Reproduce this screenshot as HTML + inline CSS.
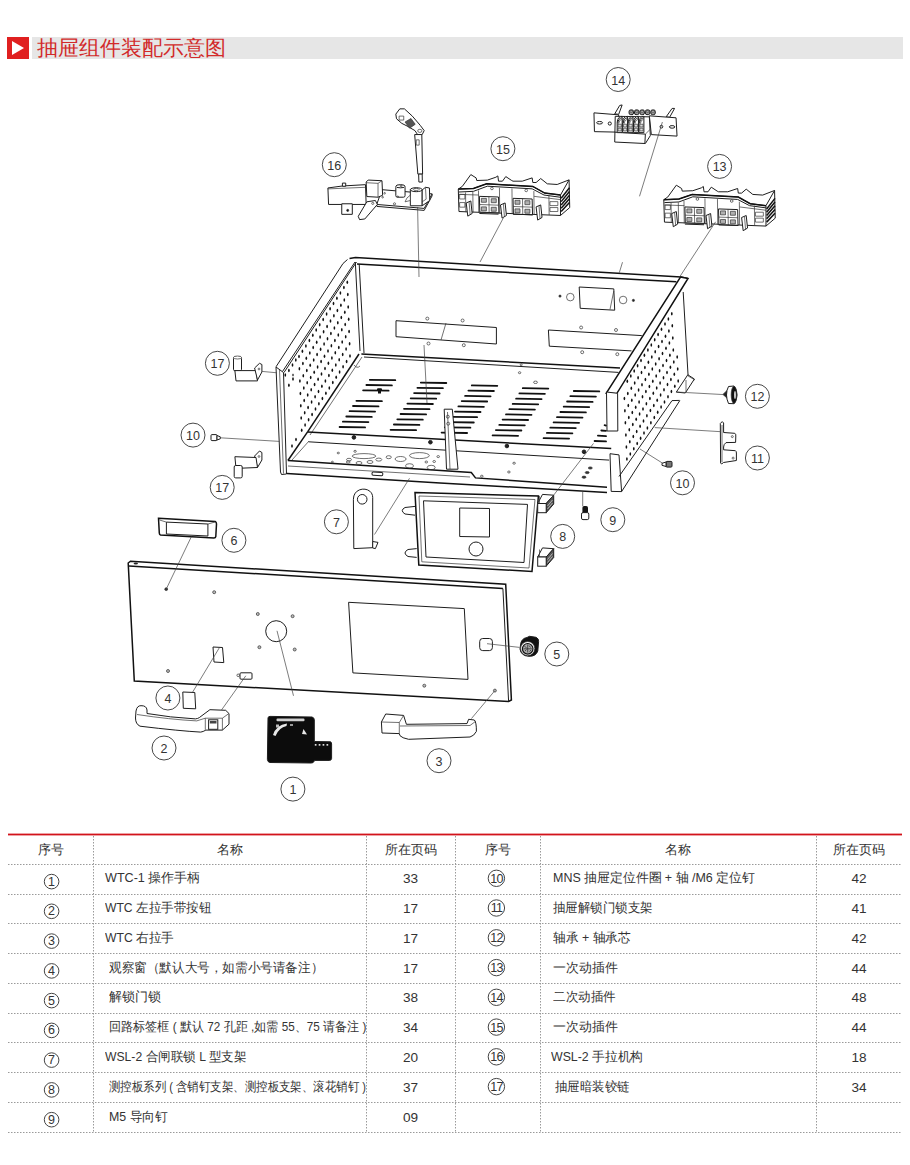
<!DOCTYPE html>
<html><head><meta charset="utf-8">
<style>
html,body{margin:0;padding:0;background:#fff;}
#root{position:relative;width:910px;height:1165px;overflow:hidden;background:#fff;font-family:"Liberation Sans",sans-serif;color:#333;}
.c{position:absolute;height:29.76px;line-height:29.76px;font-size:13px;text-align:center;white-space:nowrap;}
.c.t{text-align:left;font-size:12.6px;transform-origin:0 50%;}
.c.p{font-size:13.6px;}
.c.h{height:29.4px;line-height:29.4px;}
#bar{position:absolute;left:32px;top:37px;width:871px;height:22px;background:#e6e6e6;}
#sq{position:absolute;left:7px;top:37px;width:22px;height:22px;background:#e02020;}
#title{position:absolute;left:37px;top:37px;height:22px;line-height:22px;font-size:21px;color:#d22a2a;}
</style></head><body><div id="root">
<div id="bar"></div>
<div id="sq"><svg width="22" height="22" style="display:block"><polygon points="5,4 17,11 5,18" fill="#fff"/></svg></div>
<div id="title">抽屉组件装配示意图</div>
<svg width="910" height="830" viewBox="0 0 910 830" style="position:absolute;left:0;top:0"><style>.o{stroke:#1e1e1e;stroke-width:1}.b{stroke:#111;stroke-width:1.5}.t{stroke:#333;stroke-width:0.7}.ld{stroke:#444;stroke-width:0.7}.lb{stroke:#333;stroke-width:0.9}text{fill:#333;font-family:"Liberation Sans",sans-serif;font-size:12.5px;fill:#333;text-anchor:middle}</style><g fill="none"><g fill="#111"><ellipse cx="347.3" cy="282.3" rx="0.85" ry="1.75"/><ellipse cx="347.8" cy="294.6" rx="0.85" ry="1.75"/><ellipse cx="348.2" cy="306.9" rx="0.85" ry="1.75"/><ellipse cx="348.7" cy="319.2" rx="0.85" ry="1.75"/><ellipse cx="349.1" cy="331.5" rx="0.85" ry="1.75"/><ellipse cx="349.6" cy="343.8" rx="0.85" ry="1.75"/><ellipse cx="350.0" cy="356.1" rx="0.85" ry="1.75"/><ellipse cx="343.9" cy="287.6" rx="0.85" ry="1.75"/><ellipse cx="344.3" cy="299.9" rx="0.85" ry="1.75"/><ellipse cx="344.8" cy="312.2" rx="0.85" ry="1.75"/><ellipse cx="345.2" cy="324.5" rx="0.85" ry="1.75"/><ellipse cx="345.7" cy="336.8" rx="0.85" ry="1.75"/><ellipse cx="346.1" cy="349.1" rx="0.85" ry="1.75"/><ellipse cx="346.6" cy="361.4" rx="0.85" ry="1.75"/><ellipse cx="340.4" cy="292.9" rx="0.85" ry="1.75"/><ellipse cx="340.9" cy="305.2" rx="0.85" ry="1.75"/><ellipse cx="341.3" cy="317.5" rx="0.85" ry="1.75"/><ellipse cx="341.8" cy="329.8" rx="0.85" ry="1.75"/><ellipse cx="342.2" cy="342.1" rx="0.85" ry="1.75"/><ellipse cx="342.7" cy="354.4" rx="0.85" ry="1.75"/><ellipse cx="343.1" cy="366.7" rx="0.85" ry="1.75"/><ellipse cx="336.9" cy="298.2" rx="0.85" ry="1.75"/><ellipse cx="337.4" cy="310.5" rx="0.85" ry="1.75"/><ellipse cx="337.8" cy="322.8" rx="0.85" ry="1.75"/><ellipse cx="338.3" cy="335.1" rx="0.85" ry="1.75"/><ellipse cx="338.8" cy="347.4" rx="0.85" ry="1.75"/><ellipse cx="339.2" cy="359.7" rx="0.85" ry="1.75"/><ellipse cx="339.6" cy="372.0" rx="0.85" ry="1.75"/><ellipse cx="333.5" cy="303.5" rx="0.85" ry="1.75"/><ellipse cx="333.9" cy="315.8" rx="0.85" ry="1.75"/><ellipse cx="334.4" cy="328.1" rx="0.85" ry="1.75"/><ellipse cx="334.9" cy="340.4" rx="0.85" ry="1.75"/><ellipse cx="335.3" cy="352.7" rx="0.85" ry="1.75"/><ellipse cx="335.8" cy="365.0" rx="0.85" ry="1.75"/><ellipse cx="336.2" cy="377.3" rx="0.85" ry="1.75"/><ellipse cx="330.1" cy="308.8" rx="0.85" ry="1.75"/><ellipse cx="330.5" cy="321.1" rx="0.85" ry="1.75"/><ellipse cx="330.9" cy="333.4" rx="0.85" ry="1.75"/><ellipse cx="331.4" cy="345.7" rx="0.85" ry="1.75"/><ellipse cx="331.9" cy="358.0" rx="0.85" ry="1.75"/><ellipse cx="332.3" cy="370.3" rx="0.85" ry="1.75"/><ellipse cx="332.8" cy="382.6" rx="0.85" ry="1.75"/><ellipse cx="326.6" cy="314.1" rx="0.85" ry="1.75"/><ellipse cx="327.1" cy="326.4" rx="0.85" ry="1.75"/><ellipse cx="327.5" cy="338.7" rx="0.85" ry="1.75"/><ellipse cx="328.0" cy="351.0" rx="0.85" ry="1.75"/><ellipse cx="328.4" cy="363.3" rx="0.85" ry="1.75"/><ellipse cx="328.9" cy="375.6" rx="0.85" ry="1.75"/><ellipse cx="329.3" cy="387.9" rx="0.85" ry="1.75"/><ellipse cx="323.2" cy="319.4" rx="0.85" ry="1.75"/><ellipse cx="323.6" cy="331.7" rx="0.85" ry="1.75"/><ellipse cx="324.1" cy="344.0" rx="0.85" ry="1.75"/><ellipse cx="324.5" cy="356.3" rx="0.85" ry="1.75"/><ellipse cx="325.0" cy="368.6" rx="0.85" ry="1.75"/><ellipse cx="325.4" cy="380.9" rx="0.85" ry="1.75"/><ellipse cx="325.9" cy="393.2" rx="0.85" ry="1.75"/><ellipse cx="319.7" cy="324.7" rx="0.85" ry="1.75"/><ellipse cx="320.1" cy="337.0" rx="0.85" ry="1.75"/><ellipse cx="320.6" cy="349.3" rx="0.85" ry="1.75"/><ellipse cx="321.1" cy="361.6" rx="0.85" ry="1.75"/><ellipse cx="321.5" cy="373.9" rx="0.85" ry="1.75"/><ellipse cx="321.9" cy="386.2" rx="0.85" ry="1.75"/><ellipse cx="322.4" cy="398.5" rx="0.85" ry="1.75"/><ellipse cx="316.2" cy="330.0" rx="0.85" ry="1.75"/><ellipse cx="316.7" cy="342.3" rx="0.85" ry="1.75"/><ellipse cx="317.1" cy="354.6" rx="0.85" ry="1.75"/><ellipse cx="317.6" cy="366.9" rx="0.85" ry="1.75"/><ellipse cx="318.1" cy="379.2" rx="0.85" ry="1.75"/><ellipse cx="318.5" cy="391.5" rx="0.85" ry="1.75"/><ellipse cx="318.9" cy="403.8" rx="0.85" ry="1.75"/><ellipse cx="312.8" cy="335.3" rx="0.85" ry="1.75"/><ellipse cx="313.2" cy="347.6" rx="0.85" ry="1.75"/><ellipse cx="313.7" cy="359.9" rx="0.85" ry="1.75"/><ellipse cx="314.2" cy="372.2" rx="0.85" ry="1.75"/><ellipse cx="314.6" cy="384.5" rx="0.85" ry="1.75"/><ellipse cx="315.1" cy="396.8" rx="0.85" ry="1.75"/><ellipse cx="315.5" cy="409.1" rx="0.85" ry="1.75"/><ellipse cx="309.4" cy="340.6" rx="0.85" ry="1.75"/><ellipse cx="309.8" cy="352.9" rx="0.85" ry="1.75"/><ellipse cx="310.2" cy="365.2" rx="0.85" ry="1.75"/><ellipse cx="310.7" cy="377.5" rx="0.85" ry="1.75"/><ellipse cx="311.2" cy="389.8" rx="0.85" ry="1.75"/><ellipse cx="311.6" cy="402.1" rx="0.85" ry="1.75"/><ellipse cx="312.1" cy="414.4" rx="0.85" ry="1.75"/><ellipse cx="305.9" cy="345.9" rx="0.85" ry="1.75"/><ellipse cx="306.3" cy="358.2" rx="0.85" ry="1.75"/><ellipse cx="306.8" cy="370.5" rx="0.85" ry="1.75"/><ellipse cx="307.2" cy="382.8" rx="0.85" ry="1.75"/><ellipse cx="307.7" cy="395.1" rx="0.85" ry="1.75"/><ellipse cx="308.1" cy="407.4" rx="0.85" ry="1.75"/><ellipse cx="308.6" cy="419.7" rx="0.85" ry="1.75"/><ellipse cx="302.4" cy="351.2" rx="0.85" ry="1.75"/><ellipse cx="302.9" cy="363.5" rx="0.85" ry="1.75"/><ellipse cx="303.3" cy="375.8" rx="0.85" ry="1.75"/><ellipse cx="303.8" cy="388.1" rx="0.85" ry="1.75"/><ellipse cx="304.2" cy="400.4" rx="0.85" ry="1.75"/><ellipse cx="304.7" cy="412.7" rx="0.85" ry="1.75"/><ellipse cx="305.1" cy="425.0" rx="0.85" ry="1.75"/><ellipse cx="299.0" cy="356.5" rx="0.85" ry="1.75"/><ellipse cx="299.4" cy="368.8" rx="0.85" ry="1.75"/><ellipse cx="299.9" cy="381.1" rx="0.85" ry="1.75"/><ellipse cx="300.4" cy="393.4" rx="0.85" ry="1.75"/><ellipse cx="300.8" cy="405.7" rx="0.85" ry="1.75"/><ellipse cx="301.2" cy="418.0" rx="0.85" ry="1.75"/><ellipse cx="301.7" cy="430.3" rx="0.85" ry="1.75"/></g><g fill="#111"><ellipse cx="285.3" cy="375" rx="0.85" ry="1.75"/><ellipse cx="288.9" cy="370.4" rx="0.85" ry="1.75"/><ellipse cx="293" cy="379.1" rx="0.85" ry="1.75"/><ellipse cx="288.9" cy="385.3" rx="0.85" ry="1.75"/><ellipse cx="296" cy="439.4" rx="0.85" ry="1.75"/><ellipse cx="292" cy="446" rx="0.85" ry="1.75"/><ellipse cx="292.5" cy="365" rx="0.85" ry="1.75"/><ellipse cx="295.8" cy="360" rx="0.85" ry="1.75"/></g><g fill="#111"><ellipse cx="677.2" cy="356.9" rx="0.85" ry="1.75"/><ellipse cx="677.7" cy="369.0" rx="0.85" ry="1.75"/><ellipse cx="678.2" cy="381.1" rx="0.85" ry="1.75"/><ellipse cx="671.8" cy="313.7" rx="0.85" ry="1.75"/><ellipse cx="672.3" cy="325.8" rx="0.85" ry="1.75"/><ellipse cx="672.8" cy="337.9" rx="0.85" ry="1.75"/><ellipse cx="673.3" cy="350.0" rx="0.85" ry="1.75"/><ellipse cx="673.8" cy="362.1" rx="0.85" ry="1.75"/><ellipse cx="674.3" cy="374.2" rx="0.85" ry="1.75"/><ellipse cx="674.8" cy="386.3" rx="0.85" ry="1.75"/><ellipse cx="668.4" cy="318.9" rx="0.85" ry="1.75"/><ellipse cx="668.9" cy="331.0" rx="0.85" ry="1.75"/><ellipse cx="669.4" cy="343.1" rx="0.85" ry="1.75"/><ellipse cx="669.9" cy="355.2" rx="0.85" ry="1.75"/><ellipse cx="670.4" cy="367.3" rx="0.85" ry="1.75"/><ellipse cx="670.9" cy="379.4" rx="0.85" ry="1.75"/><ellipse cx="671.4" cy="391.5" rx="0.85" ry="1.75"/><ellipse cx="665.0" cy="324.1" rx="0.85" ry="1.75"/><ellipse cx="665.5" cy="336.2" rx="0.85" ry="1.75"/><ellipse cx="666.0" cy="348.3" rx="0.85" ry="1.75"/><ellipse cx="666.5" cy="360.4" rx="0.85" ry="1.75"/><ellipse cx="667.0" cy="372.5" rx="0.85" ry="1.75"/><ellipse cx="667.5" cy="384.6" rx="0.85" ry="1.75"/><ellipse cx="668.0" cy="396.7" rx="0.85" ry="1.75"/><ellipse cx="661.5" cy="329.3" rx="0.85" ry="1.75"/><ellipse cx="662.0" cy="341.4" rx="0.85" ry="1.75"/><ellipse cx="662.5" cy="353.5" rx="0.85" ry="1.75"/><ellipse cx="663.0" cy="365.6" rx="0.85" ry="1.75"/><ellipse cx="663.5" cy="377.7" rx="0.85" ry="1.75"/><ellipse cx="664.0" cy="389.8" rx="0.85" ry="1.75"/><ellipse cx="664.5" cy="401.9" rx="0.85" ry="1.75"/><ellipse cx="658.1" cy="334.5" rx="0.85" ry="1.75"/><ellipse cx="658.6" cy="346.6" rx="0.85" ry="1.75"/><ellipse cx="659.1" cy="358.7" rx="0.85" ry="1.75"/><ellipse cx="659.6" cy="370.8" rx="0.85" ry="1.75"/><ellipse cx="660.1" cy="382.9" rx="0.85" ry="1.75"/><ellipse cx="660.6" cy="395.0" rx="0.85" ry="1.75"/><ellipse cx="661.1" cy="407.1" rx="0.85" ry="1.75"/><ellipse cx="654.7" cy="339.7" rx="0.85" ry="1.75"/><ellipse cx="655.2" cy="351.8" rx="0.85" ry="1.75"/><ellipse cx="655.7" cy="363.9" rx="0.85" ry="1.75"/><ellipse cx="656.2" cy="376.0" rx="0.85" ry="1.75"/><ellipse cx="656.7" cy="388.1" rx="0.85" ry="1.75"/><ellipse cx="657.2" cy="400.2" rx="0.85" ry="1.75"/><ellipse cx="657.7" cy="412.3" rx="0.85" ry="1.75"/><ellipse cx="651.3" cy="344.9" rx="0.85" ry="1.75"/><ellipse cx="651.8" cy="357.0" rx="0.85" ry="1.75"/><ellipse cx="652.3" cy="369.1" rx="0.85" ry="1.75"/><ellipse cx="652.8" cy="381.2" rx="0.85" ry="1.75"/><ellipse cx="653.3" cy="393.3" rx="0.85" ry="1.75"/><ellipse cx="653.8" cy="405.4" rx="0.85" ry="1.75"/><ellipse cx="654.3" cy="417.5" rx="0.85" ry="1.75"/><ellipse cx="647.9" cy="350.1" rx="0.85" ry="1.75"/><ellipse cx="648.4" cy="362.2" rx="0.85" ry="1.75"/><ellipse cx="648.9" cy="374.3" rx="0.85" ry="1.75"/><ellipse cx="649.4" cy="386.4" rx="0.85" ry="1.75"/><ellipse cx="649.9" cy="398.5" rx="0.85" ry="1.75"/><ellipse cx="650.4" cy="410.6" rx="0.85" ry="1.75"/><ellipse cx="650.9" cy="422.7" rx="0.85" ry="1.75"/><ellipse cx="644.4" cy="355.3" rx="0.85" ry="1.75"/><ellipse cx="644.9" cy="367.4" rx="0.85" ry="1.75"/><ellipse cx="645.4" cy="379.5" rx="0.85" ry="1.75"/><ellipse cx="645.9" cy="391.6" rx="0.85" ry="1.75"/><ellipse cx="646.4" cy="403.7" rx="0.85" ry="1.75"/><ellipse cx="646.9" cy="415.8" rx="0.85" ry="1.75"/><ellipse cx="647.4" cy="427.9" rx="0.85" ry="1.75"/><ellipse cx="641.0" cy="360.5" rx="0.85" ry="1.75"/><ellipse cx="641.5" cy="372.6" rx="0.85" ry="1.75"/><ellipse cx="642.0" cy="384.7" rx="0.85" ry="1.75"/><ellipse cx="642.5" cy="396.8" rx="0.85" ry="1.75"/><ellipse cx="643.0" cy="408.9" rx="0.85" ry="1.75"/><ellipse cx="643.5" cy="421.0" rx="0.85" ry="1.75"/><ellipse cx="644.0" cy="433.1" rx="0.85" ry="1.75"/><ellipse cx="637.6" cy="365.7" rx="0.85" ry="1.75"/><ellipse cx="638.1" cy="377.8" rx="0.85" ry="1.75"/><ellipse cx="638.6" cy="389.9" rx="0.85" ry="1.75"/><ellipse cx="639.1" cy="402.0" rx="0.85" ry="1.75"/><ellipse cx="639.6" cy="414.1" rx="0.85" ry="1.75"/><ellipse cx="640.1" cy="426.2" rx="0.85" ry="1.75"/><ellipse cx="640.6" cy="438.3" rx="0.85" ry="1.75"/><ellipse cx="634.2" cy="370.9" rx="0.85" ry="1.75"/><ellipse cx="634.7" cy="383.0" rx="0.85" ry="1.75"/><ellipse cx="635.2" cy="395.1" rx="0.85" ry="1.75"/><ellipse cx="635.7" cy="407.2" rx="0.85" ry="1.75"/><ellipse cx="636.2" cy="419.3" rx="0.85" ry="1.75"/><ellipse cx="636.7" cy="431.4" rx="0.85" ry="1.75"/><ellipse cx="637.2" cy="443.5" rx="0.85" ry="1.75"/><ellipse cx="630.8" cy="376.1" rx="0.85" ry="1.75"/><ellipse cx="631.3" cy="388.2" rx="0.85" ry="1.75"/><ellipse cx="631.8" cy="400.3" rx="0.85" ry="1.75"/><ellipse cx="632.3" cy="412.4" rx="0.85" ry="1.75"/><ellipse cx="632.8" cy="424.5" rx="0.85" ry="1.75"/><ellipse cx="633.3" cy="436.6" rx="0.85" ry="1.75"/><ellipse cx="633.8" cy="448.7" rx="0.85" ry="1.75"/><ellipse cx="627.3" cy="381.3" rx="0.85" ry="1.75"/><ellipse cx="627.8" cy="393.4" rx="0.85" ry="1.75"/><ellipse cx="628.3" cy="405.5" rx="0.85" ry="1.75"/><ellipse cx="628.8" cy="417.6" rx="0.85" ry="1.75"/><ellipse cx="629.3" cy="429.7" rx="0.85" ry="1.75"/><ellipse cx="629.8" cy="441.8" rx="0.85" ry="1.75"/><ellipse cx="630.3" cy="453.9" rx="0.85" ry="1.75"/><ellipse cx="624.4" cy="398.6" rx="0.85" ry="1.75"/><ellipse cx="624.9" cy="410.7" rx="0.85" ry="1.75"/><ellipse cx="625.4" cy="422.8" rx="0.85" ry="1.75"/><ellipse cx="625.9" cy="434.9" rx="0.85" ry="1.75"/><ellipse cx="626.4" cy="447.0" rx="0.85" ry="1.75"/><ellipse cx="626.9" cy="459.1" rx="0.85" ry="1.75"/></g><polyline class="b" points="349.5,258.5 355.5,257.5 681.0,277.1 688.0,278.5"/><line class="b" x1="357.0" y1="264.0" x2="676.4" y2="281.8"/><line class="o" x1="355.3" y1="262.0" x2="360.0" y2="351.0"/><line class="o" x1="359.2" y1="264.0" x2="364.0" y2="353.0"/><polyline class="o" points="347.5,259.5 343.0,263.5 276.0,366.8"/><line class="o" x1="356.5" y1="262.0" x2="284.0" y2="372.5"/><line class="o" x1="355.0" y1="262.0" x2="282.5" y2="371.5"/><polygon class="o" points="276.0,367.0 283.5,372.5 286.5,474.0 281.5,474.5 280.5,472.0" fill="#fff"/><line class="t" x1="279.5" y1="369.5" x2="283.5" y2="473.5"/><line class="b" x1="361.4" y1="353.9" x2="620.0" y2="368.0"/><line class="o" x1="364.0" y1="357.0" x2="618.5" y2="372.4"/><line class="b" x1="359.0" y1="354.0" x2="307.6" y2="431.9"/><line class="t" x1="362.0" y1="357.0" x2="310.0" y2="435.0"/><line class="b" x1="307.6" y1="431.9" x2="287.9" y2="460.5"/><line class="t" x1="309.0" y1="441.0" x2="292.0" y2="460.0"/><line class="b" x1="307.6" y1="431.9" x2="611.2" y2="448.6"/><line class="o" x1="308.6" y1="441.8" x2="609.1" y2="460.1"/><polyline class="b" points="287.9,460.5 471.3,472.6 475.5,477.9 607.0,487.3"/><polyline class="b" points="286.9,473.4 440.0,483.0 607.0,492.5"/><line class="t" x1="288.0" y1="466.0" x2="470.0" y2="477.0"/><rect class="o" x="372" y="472.2" width="10.8" height="3.2" rx="1.2" transform="rotate(3 377 474)"/><path d="M369.8 379.8L395.3 380.2M366.4 385.0L391.9 385.4M363.1 390.3L388.6 390.7M356.4 400.8L381.9 401.2M353.0 406.0L378.5 406.4M349.6 411.2L375.1 411.6M346.3 416.5L371.8 416.9M342.9 421.7L368.4 422.1M339.6 427.0L365.1 427.4M420.8 382.6L446.3 383.0M417.4 387.8L442.9 388.2M414.1 393.1L439.6 393.5M410.7 398.3L436.2 398.7M407.4 403.6L432.9 404.0M404.0 408.8L429.5 409.2M400.6 414.0L426.1 414.4M397.3 419.3L422.8 419.7M393.9 424.5L419.4 424.9M390.6 429.8L416.1 430.2M471.8 385.4L497.3 385.8M468.4 390.6L493.9 391.0M465.1 395.9L490.6 396.3M461.7 401.1L487.2 401.5M458.4 406.4L483.9 406.8M455.0 411.6L480.5 412.0M451.6 416.8L477.1 417.2M448.3 422.1L473.8 422.5M444.9 427.3L470.4 427.7M441.6 432.6L467.1 433.0M522.8 388.2L548.3 388.6M519.4 393.4L544.9 393.8M516.1 398.7L541.6 399.1M512.7 403.9L538.2 404.3M509.4 409.2L534.9 409.6M506.0 414.4L531.5 414.8M502.6 419.6L528.1 420.0M499.3 424.9L524.8 425.3M495.9 430.1L521.4 430.5M492.6 435.4L518.1 435.8M573.8 391.0L599.3 391.4M570.4 396.2L595.9 396.6M567.1 401.5L592.6 401.9M563.7 406.7L589.2 407.1M560.4 412.0L585.9 412.4M557.0 417.2L582.5 417.6M553.6 422.4L579.1 422.8M550.3 427.7L575.8 428.1M546.9 432.9L572.4 433.3M543.6 438.2L569.1 438.6M604.6 425.2L606.0 425.6M601.3 430.5L606.0 430.9M597.9 435.7L606.0 436.1M594.6 441.0L606.0 441.4" stroke="#111" stroke-width="1.8" stroke-linecap="round" fill="none"/><rect x="378" y="388.5" width="3" height="5" fill="#111"/><rect x="377" y="388.5" width="5" height="2" fill="#111"/><circle class="o" cx="353.9" cy="437.4" r="1.8" fill="#222"/><circle class="o" cx="430.4" cy="442.2" r="1.8" fill="#222"/><circle class="o" cx="506.9" cy="446.0" r="1.8" fill="#222"/><circle class="o" cx="584.0" cy="451.8" r="1.8" fill="#222"/><ellipse class="t" cx="521.2" cy="364.8" rx="1.0" ry="1.0"/><ellipse class="t" cx="519.6" cy="372.7" rx="1.2" ry="1.0"/><ellipse class="t" cx="535.5" cy="382.3" rx="2.0" ry="1.2"/><ellipse class="t" cx="293.0" cy="375.0" rx="0.6" ry="1.2"/><ellipse class="t" cx="364.0" cy="456.1" rx="11.9" ry="2.5"/><ellipse class="t" cx="419.4" cy="455.6" rx="9.9" ry="3.0"/><ellipse class="t" cx="388.7" cy="457.2" rx="2.6" ry="1.5"/><ellipse class="t" cx="400.6" cy="459.0" rx="5.5" ry="2.5"/><ellipse class="t" cx="378.8" cy="459.6" rx="3.0" ry="1.5"/><ellipse class="t" cx="370.0" cy="462.0" rx="3.0" ry="1.5"/><ellipse class="t" cx="359.0" cy="463.0" rx="3.0" ry="1.5"/><ellipse class="t" cx="349.0" cy="459.6" rx="2.5" ry="1.3"/><ellipse class="t" cx="348.2" cy="462.0" rx="2.0" ry="1.0"/><ellipse class="t" cx="409.5" cy="465.9" rx="4.0" ry="2.2"/><ellipse class="t" cx="431.2" cy="467.5" rx="4.0" ry="2.2"/><ellipse class="t" cx="426.3" cy="462.0" rx="1.3" ry="1.0"/><ellipse class="t" cx="434.2" cy="461.5" rx="1.3" ry="1.0"/><ellipse class="t" cx="438.2" cy="456.6" rx="1.3" ry="1.0"/><ellipse class="t" cx="514.1" cy="463.2" rx="1.3" ry="1.0"/><ellipse class="t" cx="508.9" cy="472.0" rx="1.3" ry="1.0"/><ellipse class="t" cx="481.8" cy="476.2" rx="1.3" ry="1.0"/><ellipse class="t" cx="338.3" cy="453.0" rx="1.2" ry="0.8"/><ellipse class="t" cx="332.4" cy="462.0" rx="1.0" ry="0.8"/><ellipse class="t" cx="355.1" cy="451.3" rx="1.2" ry="1.0"/><ellipse class="t" cx="590.3" cy="468.0" rx="2.0" ry="1.1" fill="#333"/><ellipse class="t" cx="587.2" cy="472.6" rx="2.0" ry="1.1" fill="#333"/><ellipse class="t" cx="584.0" cy="477.2" rx="2.0" ry="1.1" fill="#333"/><polygon class="o" points="444.2,409.2 452.3,409.2 458.0,469.2 446.5,469.2" fill="#fff"/><line class="t" x1="447.5" y1="412.0" x2="450.0" y2="469.0"/><circle class="t" cx="447.8" cy="416.7" r="1.5"/><circle class="t" cx="448.2" cy="423.7" r="1.5"/><polygon class="o" points="396.0,320.7 496.4,327.5 496.4,344.0 396.0,336.7"/><line class="t" x1="446.0" y1="323.0" x2="441.0" y2="340.0"/><circle class="t" cx="427.3" cy="318.6" r="1.5"/><circle class="t" cx="462.6" cy="320.5" r="1.5"/><circle class="t" cx="428.5" cy="343.5" r="1.5"/><circle class="t" cx="463.8" cy="345.2" r="1.5"/><polyline class="o" points="641.8,335.6 548.4,330.0 549.3,346.2 631.5,350.9"/><circle class="t" cx="581.1" cy="327.5" r="1.5"/><circle class="t" cx="616.0" cy="330.0" r="1.5"/><circle class="t" cx="582.2" cy="352.2" r="1.5"/><circle class="t" cx="617.3" cy="354.2" r="1.5"/><polygon class="o" points="579.2,287.0 613.8,288.9 614.7,310.2 580.2,308.3"/><line class="t" x1="613.8" y1="291.0" x2="610.0" y2="309.4"/><circle class="t" cx="570.3" cy="297.1" r="3.8"/><circle class="t" cx="623.1" cy="300.0" r="3.8"/><circle class="t" cx="560.0" cy="296.1" r="1.1" fill="#222"/><circle class="t" cx="633.4" cy="300.4" r="1.1" fill="#222"/><path class="t" d="M354 365 q3 4 6 1"/><polygon class="b" points="680.5,277.0 688.0,278.5 616.6,393.8 606.3,393.0" fill="#fff"/><line class="o" x1="683.2" y1="292.0" x2="688.1" y2="376.0"/><polygon class="o" points="606.5,392.0 617.6,393.3 617.8,431.0 607.0,431.0" fill="#fff"/><polygon class="o" points="610.0,453.7 619.0,454.9 621.6,491.6 611.2,491.4" fill="#fff"/><line class="o" x1="621.6" y1="491.6" x2="679.8" y2="400.6"/><line class="o" x1="619.0" y1="476.5" x2="672.0" y2="400.6"/><line class="o" x1="672.0" y1="400.6" x2="679.6" y2="400.4"/><polygon class="o" points="676.3,392.1 687.8,374.8 694.4,379.0 685.3,393.0" fill="#fff"/><line class="t" x1="688.1" y1="376.0" x2="695.0" y2="380.0"/><line class="t" x1="686.0" y1="380.0" x2="686.0" y2="392.0"/><g transform="translate(320,95) scale(0.13187)"><polygon class="o" vector-effect="non-scaling-stroke" fill="#fff" points="605,105 640,105 700,160 760,230 790,270 775,300 740,300 720,270 660,235 620,215 580,180 575,145"/><polygon class="t" vector-effect="non-scaling-stroke" fill="#555" points="645,205 690,178 722,222 680,252"/><rect class="t" vector-effect="non-scaling-stroke" x="600" y="160" width="35" height="30" rx="0"/><ellipse class="t" vector-effect="non-scaling-stroke" cx="757" cy="272" rx="16" ry="12"/><polygon class="o" vector-effect="non-scaling-stroke" fill="#fff" points="718,300 772,300 778,600 742,600"/><rect class="t" vector-effect="non-scaling-stroke" x="730" y="340" width="22" height="40" rx="0"/><polygon class="o" vector-effect="non-scaling-stroke" fill="#fff" points="748,600 775,600 776,660 750,660"/><polygon class="o" vector-effect="non-scaling-stroke" fill="#fff" points="470,718 850,750 790,860 430,830"/><polyline class="o" vector-effect="non-scaling-stroke" points="430,830 432,845 790,875 850,765 850,750"/><polygon class="o" vector-effect="non-scaling-stroke" fill="#fff" points="60,705 170,690 345,680 350,830 65,830"/><polyline class="t" vector-effect="non-scaling-stroke" points="60,712 345,700"/><rect class="o" vector-effect="non-scaling-stroke" fill="#fff" x="170" y="668" width="25" height="24" rx="0"/><polygon class="o" vector-effect="non-scaling-stroke" fill="#fff" points="350,660 365,645 470,650 475,760 440,775 355,770"/><polyline class="t" vector-effect="non-scaling-stroke" points="350,665 440,670 470,650"/><polyline class="t" vector-effect="non-scaling-stroke" points="440,670 440,775"/><rect class="o" vector-effect="non-scaling-stroke" fill="#fff" x="165" y="825" width="80" height="80" rx="0"/><circle class="t" vector-effect="non-scaling-stroke" fill="#111" cx="210" cy="875" r="8"/><polygon class="o" vector-effect="non-scaling-stroke" fill="#fff" points="355,810 420,800 435,830 340,940 300,945 290,920"/><circle class="t" vector-effect="non-scaling-stroke" cx="400" cy="822" r="8"/><rect class="o" vector-effect="non-scaling-stroke" fill="#fff" x="575" y="690" width="70" height="85" rx="12"/><ellipse class="o" vector-effect="non-scaling-stroke" fill="#fff" cx="610" cy="692" rx="35" ry="12"/><circle class="t" vector-effect="non-scaling-stroke" cx="615" cy="690" r="7"/><rect class="o" vector-effect="non-scaling-stroke" fill="#fff" x="685" y="718" width="90" height="122" rx="0"/><ellipse class="o" vector-effect="non-scaling-stroke" fill="#fff" cx="730" cy="718" rx="45" ry="15"/><ellipse class="t" vector-effect="non-scaling-stroke" cx="730" cy="716" rx="22" ry="8"/><polygon class="o" vector-effect="non-scaling-stroke" fill="#fff" points="775,720 800,700 830,705 832,800 775,840"/><polyline class="t" vector-effect="non-scaling-stroke" points="800,700 805,790 775,810"/><polygon class="t" vector-effect="non-scaling-stroke" fill="#fff" points="660,780 685,760 685,800 645,810"/><circle class="t" vector-effect="non-scaling-stroke" cx="490" cy="745" r="6"/><circle class="t" vector-effect="non-scaling-stroke" cx="475" cy="775" r="6"/><circle class="t" vector-effect="non-scaling-stroke" cx="565" cy="825" r="8"/><circle class="t" vector-effect="non-scaling-stroke" cx="590" cy="770" r="5"/></g><g transform="translate(455,168) scale(0.13187)"><g id="p15"><polyline class="o" vector-effect="non-scaling-stroke" points="25,160 55,140 120,50 160,75 165,95 245,92 310,70 325,60 330,100 360,100 385,65 430,95 440,100 510,100 585,75 590,110 615,110 650,80 700,120 775,125 865,90"/><polygon class="o" vector-effect="non-scaling-stroke" fill="#fff" points="25,160 140,155 240,120 590,140 680,190 800,205 865,90 870,300 800,360 30,330"/><polyline class="b" vector-effect="non-scaling-stroke" points="25,160 140,155 240,120 590,140 680,190 800,205"/><polyline class="o" vector-effect="non-scaling-stroke" points="30,182 140,177 245,138 585,158 675,205 800,222"/><polyline class="o" vector-effect="non-scaling-stroke" points="800,205 800,360"/><polyline class="b" vector-effect="non-scaling-stroke" points="805,230 868,150"/><polyline class="b" vector-effect="non-scaling-stroke" points="805,255 868,178"/><polyline class="b" vector-effect="non-scaling-stroke" points="805,280 868,206"/><polyline class="b" vector-effect="non-scaling-stroke" points="805,305 868,234"/><polyline class="b" vector-effect="non-scaling-stroke" points="805,330 868,262"/><rect class="t" vector-effect="non-scaling-stroke" x="35" y="200" width="40" height="35" rx="0"/><rect class="t" vector-effect="non-scaling-stroke" x="35" y="262" width="40" height="35" rx="0"/><rect class="t" vector-effect="non-scaling-stroke" x="720" y="255" width="60" height="30" rx="0"/><rect class="t" vector-effect="non-scaling-stroke" x="720" y="300" width="60" height="30" rx="0"/><polygon class="o" vector-effect="non-scaling-stroke" fill="#fff" points="185,215 330,220 333,340 188,335"/><polyline class="t" vector-effect="non-scaling-stroke" points="257,218 259,337"/><polyline class="t" vector-effect="non-scaling-stroke" points="187,277 331,282"/><rect class="t" vector-effect="non-scaling-stroke" fill="#b0b0b0" x="200" y="230" width="38" height="30" rx="0"/><rect class="t" vector-effect="non-scaling-stroke" fill="#b0b0b0" x="275" y="233" width="38" height="30" rx="0"/><rect class="t" vector-effect="non-scaling-stroke" fill="#b0b0b0" x="200" y="295" width="38" height="30" rx="0"/><rect class="t" vector-effect="non-scaling-stroke" fill="#b0b0b0" x="275" y="298" width="38" height="30" rx="0"/><polygon class="o" vector-effect="non-scaling-stroke" fill="#fff" points="440,230 585,235 588,355 443,350"/><polyline class="t" vector-effect="non-scaling-stroke" points="512,233 514,352"/><polyline class="t" vector-effect="non-scaling-stroke" points="442,292 586,297"/><rect class="t" vector-effect="non-scaling-stroke" fill="#b0b0b0" x="455" y="245" width="38" height="30" rx="0"/><rect class="t" vector-effect="non-scaling-stroke" fill="#b0b0b0" x="530" y="248" width="38" height="30" rx="0"/><rect class="t" vector-effect="non-scaling-stroke" fill="#b0b0b0" x="455" y="310" width="38" height="30" rx="0"/><rect class="t" vector-effect="non-scaling-stroke" fill="#b0b0b0" x="530" y="313" width="38" height="30" rx="0"/><polygon class="o" vector-effect="non-scaling-stroke" fill="#fff" points="85,265 120,250 130,345 97,365"/><polyline class="t" vector-effect="non-scaling-stroke" points="107,258 115,355"/><polygon class="o" vector-effect="non-scaling-stroke" fill="#fff" points="345,280 380,265 390,360 357,380"/><polyline class="t" vector-effect="non-scaling-stroke" points="367,273 375,370"/><polygon class="o" vector-effect="non-scaling-stroke" fill="#fff" points="615,295 650,280 660,375 627,395"/><polyline class="t" vector-effect="non-scaling-stroke" points="637,288 645,385"/><polyline class="t" vector-effect="non-scaling-stroke" points="80,185 82,335"/><polyline class="t" vector-effect="non-scaling-stroke" points="135,180 137,338"/><polyline class="t" vector-effect="non-scaling-stroke" points="178,170 180,340"/><polyline class="t" vector-effect="non-scaling-stroke" points="337,150 339,345"/><polyline class="t" vector-effect="non-scaling-stroke" points="432,155 434,350"/><polyline class="t" vector-effect="non-scaling-stroke" points="598,175 600,352"/><polyline class="t" vector-effect="non-scaling-stroke" points="712,205 714,356"/><polyline class="t" vector-effect="non-scaling-stroke" points="30,200 180,205"/><polyline class="t" vector-effect="non-scaling-stroke" points="600,215 800,240"/><polyline class="o" vector-effect="non-scaling-stroke" points="185,345 330,350"/><polyline class="o" vector-effect="non-scaling-stroke" points="440,350 590,355"/><circle class="t" vector-effect="non-scaling-stroke" cx="280" cy="155" r="10"/><circle class="t" vector-effect="non-scaling-stroke" cx="540" cy="170" r="10"/></g></g><use href="#p15" transform="translate(660.5,178.6) scale(0.13187)"/><g transform="translate(590,100) scale(0.09891)"><polygon class="o" vector-effect="non-scaling-stroke" fill="#fff" points="250,140 300,55 325,50 290,145"/><polygon class="o" vector-effect="non-scaling-stroke" fill="#fff" points="770,170 830,85 855,85 805,175"/><rect class="o" vector-effect="non-scaling-stroke" fill="#9a9a9a" x="395" y="100" width="45" height="48" rx="16"/><rect class="t" vector-effect="non-scaling-stroke" fill="#eee" x="403" y="108" width="28" height="14" rx="7"/><rect class="o" vector-effect="non-scaling-stroke" fill="#9a9a9a" x="450" y="100" width="45" height="48" rx="16"/><rect class="t" vector-effect="non-scaling-stroke" fill="#eee" x="458" y="108" width="28" height="14" rx="7"/><rect class="o" vector-effect="non-scaling-stroke" fill="#9a9a9a" x="505" y="100" width="45" height="48" rx="16"/><rect class="t" vector-effect="non-scaling-stroke" fill="#eee" x="513" y="108" width="28" height="14" rx="7"/><rect class="o" vector-effect="non-scaling-stroke" fill="#9a9a9a" x="560" y="100" width="45" height="48" rx="16"/><rect class="t" vector-effect="non-scaling-stroke" fill="#eee" x="568" y="108" width="28" height="14" rx="7"/><rect class="o" vector-effect="non-scaling-stroke" fill="#9a9a9a" x="615" y="100" width="45" height="48" rx="16"/><rect class="t" vector-effect="non-scaling-stroke" fill="#eee" x="623" y="108" width="28" height="14" rx="7"/><polygon class="o" vector-effect="non-scaling-stroke" fill="#fff" points="40,130 290,150 290,325 45,320"/><ellipse class="o" vector-effect="non-scaling-stroke" cx="97" cy="230" rx="30" ry="13"/><circle class="o" vector-effect="non-scaling-stroke" cx="200" cy="238" r="16"/><polygon class="o" vector-effect="non-scaling-stroke" fill="#fff" points="600,160 870,180 880,365 620,350"/><ellipse class="o" vector-effect="non-scaling-stroke" cx="830" cy="272" rx="28" ry="13"/><circle class="o" vector-effect="non-scaling-stroke" cx="722" cy="270" r="14"/><polygon class="o" vector-effect="non-scaling-stroke" fill="#fff" points="255,165 600,170 610,360 560,440 250,425"/><polyline class="o" vector-effect="non-scaling-stroke" points="250,325 560,345 555,435"/><polyline class="t" vector-effect="non-scaling-stroke" points="560,345 605,300"/><path class="o" vector-effect="non-scaling-stroke" fill="#fff" d="M275 330 L275 225 Q280 165 325 165 L325 330 Z"/><rect class="t" vector-effect="non-scaling-stroke" fill="#ddd" x="283" y="245" width="34" height="28" rx="0"/><rect class="t" vector-effect="non-scaling-stroke" fill="#ddd" x="283" y="285" width="34" height="28" rx="0"/><path class="o" vector-effect="non-scaling-stroke" d="M281 235 Q285 185 323 180"/><path class="t" vector-effect="non-scaling-stroke" d="M289 240 Q293 200 321 195"/><path class="o" vector-effect="non-scaling-stroke" fill="#fff" d="M330 330 L330 225 Q335 165 380 165 L380 330 Z"/><rect class="t" vector-effect="non-scaling-stroke" fill="#ddd" x="338" y="245" width="34" height="28" rx="0"/><rect class="t" vector-effect="non-scaling-stroke" fill="#ddd" x="338" y="285" width="34" height="28" rx="0"/><path class="o" vector-effect="non-scaling-stroke" d="M336 235 Q340 185 378 180"/><path class="t" vector-effect="non-scaling-stroke" d="M344 240 Q348 200 376 195"/><path class="o" vector-effect="non-scaling-stroke" fill="#fff" d="M385 330 L385 225 Q390 165 435 165 L435 330 Z"/><rect class="t" vector-effect="non-scaling-stroke" fill="#ddd" x="393" y="245" width="34" height="28" rx="0"/><rect class="t" vector-effect="non-scaling-stroke" fill="#ddd" x="393" y="285" width="34" height="28" rx="0"/><path class="o" vector-effect="non-scaling-stroke" d="M391 235 Q395 185 433 180"/><path class="t" vector-effect="non-scaling-stroke" d="M399 240 Q403 200 431 195"/><path class="o" vector-effect="non-scaling-stroke" fill="#fff" d="M440 330 L440 225 Q445 165 490 165 L490 330 Z"/><rect class="t" vector-effect="non-scaling-stroke" fill="#ddd" x="448" y="245" width="34" height="28" rx="0"/><rect class="t" vector-effect="non-scaling-stroke" fill="#ddd" x="448" y="285" width="34" height="28" rx="0"/><path class="o" vector-effect="non-scaling-stroke" d="M446 235 Q450 185 488 180"/><path class="t" vector-effect="non-scaling-stroke" d="M454 240 Q458 200 486 195"/><path class="o" vector-effect="non-scaling-stroke" fill="#fff" d="M495 330 L495 225 Q500 165 545 165 L545 330 Z"/><rect class="t" vector-effect="non-scaling-stroke" fill="#ddd" x="503" y="245" width="34" height="28" rx="0"/><rect class="t" vector-effect="non-scaling-stroke" fill="#ddd" x="503" y="285" width="34" height="28" rx="0"/><path class="o" vector-effect="non-scaling-stroke" d="M501 235 Q505 185 543 180"/><path class="t" vector-effect="non-scaling-stroke" d="M509 240 Q513 200 541 195"/></g><rect class="o" x="233.5" y="356.8" width="8" height="14" rx="1.5" fill="#fff"/><ellipse class="t" cx="237.5" cy="357.5" rx="4.0" ry="1.5" fill="#fff"/><polygon class="o" points="234.9,370.6 256.0,370.6 257.5,380.9 236.0,380.9" fill="#fff"/><polygon class="o" points="254.6,368.0 259.5,363.3 261.9,364.5 261.9,372.0 257.5,380.0" fill="#fff"/><circle class="t" cx="259.0" cy="369.0" r="0.9"/><polygon class="o" points="254.6,456.0 259.5,451.0 261.9,452.5 261.9,460.0 257.5,467.5" fill="#fff"/><polygon class="o" points="234.9,456.7 256.0,457.5 257.5,467.5 236.0,468.4" fill="#fff"/><rect class="o" x="234.2" y="465.5" width="8" height="12.4" rx="1.5" fill="#fff"/><circle class="t" cx="259.0" cy="456.5" r="0.9"/><rect class="o" x="211" y="434.6" width="6" height="6" rx="1" fill="#fff"/><polygon class="o" points="217,435.5 220.3,436.8 220.3,438.8 217,440" fill="#fff"/><rect class="o" x="666" y="461.4" width="6" height="5.7" rx="1" fill="#777"/><polygon class="o" points="666,462 662,463.3 662,465.3 666,466.5" fill="#fff"/><polygon class="t" points="722.9,394.4 727.5,390.0 727.5,398.5" fill="#222"/><path class="o" d="M728.5 386.5 L734 386 Q737 390 737 395 Q737 400 734 403.7 L728.5 403.5 Q726.5 399 726.5 395 Q726.5 390 728.5 386.5 Z" fill="#fff"/><ellipse class="t" cx="734.0" cy="394.8" rx="2.8" ry="8.6" fill="#111"/><ellipse class="t" cx="735.0" cy="395.0" rx="0.9" ry="4.0" fill="#ddd" style="stroke:none"/><path class="o" d="M720.3 423.5 L722.2 421.6 L723.6 423 L723.6 432.5 L734.8 433.3 Q736 433.8 735.8 436 L735.6 442.4 L726 442.6 Q723.5 444.5 723.6 447 L723.6 449.8 L735.4 450.7 Q736.4 451.2 736.4 453 L736.4 460.5 L723.5 462.5 L721.6 464 L720.6 463 Z" fill="#fff"/><circle class="t" cx="732.3" cy="436.6" r="1.0"/><circle class="t" cx="733.1" cy="458.1" r="1.0"/><line class="t" x1="722.0" y1="425.0" x2="722.0" y2="462.0"/><path class="o" d="M353.4 499.3 C353.4 486 372.7 486 372.7 497.6 L372.7 547.7 L353.8 548.6 Z" fill="#fff"/><circle class="o" cx="362.2" cy="499.3" r="4.8"/><polygon class="o" points="372.7,541.5 378.0,542.4 375.4,548.6 372.7,548.0" fill="#fff"/><path class="b" d="M415 492.5 L538.4 496 L532 571.5 L418.8 565 Z" fill="#fff"/><path class="t" d="M419 496 L535 499.5 L529 568 L421.8 561.8 Z"/><path class="o" d="M423.5 500.8 L527.5 504.4 L524 562.5 L426 557 Z"/><polygon class="o" points="459.7,508.0 489.5,508.5 489.5,537.0 459.7,536.5"/><circle class="o" cx="476.0" cy="549.0" r="7.0"/><path class="o" d="M415 506.4 L405 507.5 Q399.5 510.5 405 514 L415 515.2" fill="#fff"/><path class="o" d="M416.7 548.6 L408 549.5 Q402 553 408 556.5 L416.7 557.4" fill="#fff"/><polygon class="o" points="537.7,503.5 542.5,494.4 553.7,495.2 546.2,503.5" fill="#fff"/><polygon class="o" points="546.2,503.5 553.7,495.2 553.7,504.0 546.2,512.7" fill="#555"/><path class="t" d="M547.5 506.0 L552.5 500.0 M547.5 509.0 L552.5 503.0" style="stroke:#ddd"/><rect class="o" x="537.7" y="503.5" width="8.5" height="9.2" fill="#fff"/><line class="t" x1="539.5" y1="496.0" x2="539.5" y2="503.5"/><polygon class="o" points="537.7,557.0 542.5,547.9 553.7,548.7 546.2,557.0" fill="#fff"/><polygon class="o" points="546.2,557.0 553.7,548.7 553.7,557.5 546.2,566.2" fill="#555"/><path class="t" d="M547.5 559.5 L552.5 553.5 M547.5 562.5 L552.5 556.5" style="stroke:#ddd"/><rect class="o" x="537.7" y="557.0" width="8.5" height="9.2" fill="#fff"/><line class="t" x1="539.5" y1="549.5" x2="539.5" y2="557.0"/><rect x="582.4" y="506" width="5.6" height="8" rx="1.8" fill="#151515"/><rect class="o" x="581.5" y="512.6" width="7.3" height="7" rx="1.5" fill="#fff"/><path class="b" d="M128.2 563 L130.5 561.2 L505.7 584.3 L511.4 700 L508.6 701.4 L134.3 681 Z" fill="#fff"/><line class="b" x1="129.0" y1="566.0" x2="502.9" y2="588.6"/><line class="o" x1="502.9" y1="588.6" x2="508.6" y2="701.4"/><ellipse cx="135.8" cy="563.6" rx="2.2" ry="1" fill="#222"/><polygon class="o" points="348.6,602.3 464.3,608.6 468.0,679.4 352.9,672.9"/><circle class="o" cx="276.2" cy="631.2" r="10.5"/><circle class="t" cx="166.2" cy="589.2" r="1.4" fill="#333"/><circle class="t" cx="214.2" cy="592.2" r="1.5" fill="#bbb"/><circle class="t" cx="257.8" cy="614.0" r="1.5" fill="#bbb"/><circle class="t" cx="292.6" cy="616.2" r="1.5" fill="#bbb"/><circle class="t" cx="259.4" cy="647.2" r="1.5" fill="#bbb"/><circle class="t" cx="294.7" cy="649.5" r="1.5" fill="#bbb"/><circle class="t" cx="168.0" cy="671.0" r="1.5" fill="#bbb"/><circle class="t" cx="424.3" cy="685.7" r="1.5" fill="#bbb"/><circle class="t" cx="494.9" cy="690.6" r="1.5" fill="#bbb"/><polygon class="o" points="213.0,647.0 222.5,647.5 223.8,662.6 214.0,662.0"/><rect class="o" x="240" y="672.8" width="12" height="6.4" rx="1"/><circle class="t" cx="238.2" cy="675.3" r="1.3"/><rect class="o" x="479.7" y="638.5" width="12.7" height="12.1" rx="3"/><path class="o" d="M520.5 645 Q521 638.5 527 637.5 L529.5 636.3 L536 637.3 Q538.8 638.5 538.6 641.5 L537.8 651 Q536 656.5 529 656.3 Q521 656 520 649 Z" fill="#111"/><circle class="t" cx="527.7" cy="648.6" r="7.1" fill="#fff" style="stroke:#222"/><circle class="t" cx="527.7" cy="648.8" r="5.3" fill="#aaa" style="stroke:#111;stroke-width:1.2"/><path class="t" d="M524.5 646 l2 2 M529 645.5 l1.5 2 M525 651 l1.5 -1.5 M529.5 651.5 l1.5 -1.5 M527.7 644.5 v8 M523.5 648.8 h8.4" style="stroke:#222"/><path class="b" d="M158.5 518.2 L215.2 521.5 Q216.5 522 216.5 524 L215.8 536.5 Q215.5 538 214 538 L160.5 535 Q159.3 534.7 159.3 533 Z" fill="#fff"/><path class="o" d="M166.4 522.1 L207.9 524 L207.9 536 L166.4 534 Z"/><line class="t" x1="159.5" y1="520.0" x2="166.4" y2="522.1"/><line class="t" x1="215.0" y1="522.0" x2="207.9" y2="524.0"/><polygon class="o" points="182.8,692.0 194.8,692.5 195.7,708.8 183.3,708.3" fill="#fff"/><path class="o" d="M136 711 Q137 705.5 141 705.7 Q146.5 705.5 147 710 L147 713.5 Q170 717.5 195.4 718.9 Q198 718.6 199.3 717.6 L209.9 709.7 L225.7 710.3 L229 713.6 L229 724.2 L222.4 730.1 L205.9 730.1 Q203 731.8 200.7 732.1 Q180 731 140 726.2 Q135.5 724 135.5 718 Z" fill="#fff"/><path class="t" d="M137 714.5 Q170 719.5 196.7 720.9 L205.3 718.2 L222.4 718.2 L228.5 713.8 M205.3 718.2 L205.3 729.8 M222.4 718.2 L222.4 730.1"/><rect class="o" x="208.6" y="719.8" width="9.2" height="9.5" fill="#fff"/><rect x="209.8" y="721" width="6.7" height="2.5" fill="#444"/><path class="o" d="M385.7 714 L403.6 715.4 L406.4 724.3 L467 723.6 L468.6 719.3 L474.3 720 Q476.5 722 476.4 731.4 Q474 736 470 737 L408.6 739.3 Q402 738 400 735.7 L399.3 733.6 L382 733 L381.4 722 Z" fill="#fff"/><polyline class="t" points="381.4,722.0 399.3,722.5 403.6,715.4"/><line class="t" x1="399.3" y1="722.5" x2="399.3" y2="733.6"/><polyline class="t" points="400.0,726.0 470.0,725.5 476.0,721.0"/><path class="o" d="M268 718 Q268 716.4 270 716.4 L312 717 Q314.3 717.5 314.3 720 L314.3 741.5 L330.5 741.8 Q331.6 742 331.6 744 L331.6 758.5 Q331.4 760.4 329.5 760.4 L314.3 760.4 L314 761.5 Q313.5 763 311 763 L270 762.5 Q267.5 762 267.4 759.5 Z" fill="#0c0c0c"/><rect x="276.5" y="718.4" width="28" height="2.8" rx="1" fill="#d0d0d0"/><path class="t" d="M273 735 Q276 725 287 723.5 L286.5 726 Q279 727.5 275.5 736 Z" fill="#e8e8e8" style="stroke:none"/><path class="t" d="M303.5 729 L307 734.5 L302 734 Z" fill="#e8e8e8" style="stroke:none"/><rect x="276" y="724.5" width="3" height="3" fill="#bbb"/><rect x="290" y="724" width="3" height="2" fill="#999"/><rect x="314.8" y="744" width="1.7" height="1.7" fill="#ddd"/><rect x="318.7" y="744" width="1.7" height="1.7" fill="#ddd"/><rect x="322.6" y="744" width="1.7" height="1.7" fill="#ddd"/><rect x="326.5" y="744" width="1.7" height="1.7" fill="#ddd"/><line class="ld" x1="662.4" y1="122.0" x2="639.5" y2="196.3"/><line class="ld" x1="622.5" y1="262.2" x2="619.3" y2="272.7"/><line class="ld" x1="417.6" y1="207.0" x2="419.0" y2="277.0"/><line class="ld" x1="503.3" y1="218.0" x2="480.0" y2="262.0"/><line class="ld" x1="715.6" y1="221.8" x2="679.6" y2="277.0"/><line class="ld" x1="262.0" y1="371.4" x2="277.0" y2="372.8"/><line class="ld" x1="220.3" y1="437.8" x2="279.4" y2="441.4"/><line class="ld" x1="676.3" y1="392.0" x2="724.0" y2="394.6"/><line class="ld" x1="654.8" y1="427.6" x2="720.8" y2="431.7"/><line class="ld" x1="640.0" y1="449.0" x2="662.3" y2="463.0"/><line class="ld" x1="582.7" y1="491.8" x2="582.7" y2="506.3"/><line class="ld" x1="374.5" y1="534.5" x2="409.5" y2="478.3"/><line class="ld" x1="593.5" y1="443.4" x2="551.7" y2="497.7"/><line class="ld" x1="191.4" y1="536.6" x2="166.2" y2="589.2"/><line class="ld" x1="487.0" y1="643.7" x2="519.6" y2="647.4"/><line class="ld" x1="219.2" y1="648.0" x2="192.7" y2="692.0"/><line class="ld" x1="245.8" y1="675.8" x2="221.5" y2="710.0"/><line class="ld" x1="277.0" y1="630.8" x2="293.5" y2="695.8"/><line class="ld" x1="494.9" y1="690.6" x2="471.4" y2="718.6"/><line class="ld" x1="424.0" y1="345.0" x2="427.0" y2="403.0"/><circle class="lb" fill="#fff" cx="618.2" cy="79.5" r="12"/><text x="618.2" y="84.5">14</text><circle class="lb" fill="#fff" cx="334.3" cy="164.7" r="12"/><text x="334.3" y="169.7">16</text><circle class="lb" fill="#fff" cx="502.9" cy="148.7" r="12"/><text x="502.9" y="153.7">15</text><circle class="lb" fill="#fff" cx="719.6" cy="166.4" r="12"/><text x="719.6" y="171.4">13</text><circle class="lb" fill="#fff" cx="217.4" cy="363.3" r="12"/><text x="217.4" y="368.3">17</text><circle class="lb" fill="#fff" cx="757.4" cy="396.3" r="12"/><text x="757.4" y="401.3">12</text><circle class="lb" fill="#fff" cx="193" cy="435.1" r="12"/><text x="193" y="440.1">10</text><circle class="lb" fill="#fff" cx="757.4" cy="458" r="12"/><text x="757.4" y="463.0">11</text><circle class="lb" fill="#fff" cx="222.2" cy="487.4" r="12"/><text x="222.2" y="492.4">17</text><circle class="lb" fill="#fff" cx="682.5" cy="482.8" r="12"/><text x="682.5" y="487.8">10</text><circle class="lb" fill="#fff" cx="612.8" cy="519.7" r="12"/><text x="612.8" y="524.7">9</text><circle class="lb" fill="#fff" cx="336.4" cy="521.8" r="12"/><text x="336.4" y="526.8">7</text><circle class="lb" fill="#fff" cx="233.9" cy="540.3" r="12"/><text x="233.9" y="545.3">6</text><circle class="lb" fill="#fff" cx="562.7" cy="536.4" r="12"/><text x="562.7" y="541.4">8</text><circle class="lb" fill="#fff" cx="556.8" cy="654" r="12"/><text x="556.8" y="659.0">5</text><circle class="lb" fill="#fff" cx="167.9" cy="698" r="12"/><text x="167.9" y="703.0">4</text><circle class="lb" fill="#fff" cx="164" cy="748" r="12"/><text x="164" y="753.0">2</text><circle class="lb" fill="#fff" cx="439" cy="760.7" r="12"/><text x="439" y="765.7">3</text><circle class="lb" fill="#fff" cx="292.9" cy="789.1" r="12"/><text x="292.9" y="794.1">1</text></g></svg>
<div class="c t" id="n1" style="left:105px;top:864.4px;transform:scaleX(1.0000)">WTC-1 操作手柄</div>
<div class="c p" style="left:366px;width:89px;top:864.4px">33</div>
<div class="c t" id="n2" style="left:105px;top:894.2px;transform:scaleX(0.9634)">WTC 左拉手带按钮</div>
<div class="c p" style="left:366px;width:89px;top:894.2px">17</div>
<div class="c t" id="n3" style="left:105px;top:923.9px;transform:scaleX(0.9687)">WTC 右拉手</div>
<div class="c p" style="left:366px;width:89px;top:923.9px">17</div>
<div class="c t" id="n4" style="left:109px;top:953.7px;transform:scaleX(0.9690)">观察窗（默认大号，如需小号请备注）</div>
<div class="c p" style="left:366px;width:89px;top:953.7px">17</div>
<div class="c t" id="n5" style="left:109px;top:983.4px;transform:scaleX(1.0008)">解锁门锁</div>
<div class="c p" style="left:366px;width:89px;top:983.4px">38</div>
<div class="c t" id="n6" style="left:109px;top:1013.2px;transform:scaleX(0.9297)">回路标签框 ( 默认 72 孔距 ,如需 55、75 请备注 )</div>
<div class="c p" style="left:366px;width:89px;top:1013.2px">34</div>
<div class="c t" id="n7" style="left:105px;top:1043.0px;transform:scaleX(0.9658)">WSL-2 合闸联锁 L 型支架</div>
<div class="c p" style="left:366px;width:89px;top:1043.0px">20</div>
<div class="c t" id="n8" style="left:109px;top:1072.7px;transform:scaleX(0.8801)">测控板系列 ( 含销钉支架、测控板支架、滚花销钉 )</div>
<div class="c p" style="left:366px;width:89px;top:1072.7px">37</div>
<div class="c t" id="n9" style="left:109px;top:1102.5px;transform:scaleX(0.9834)">M5 导向钉</div>
<div class="c p" style="left:366px;width:89px;top:1102.5px">09</div>
<div class="c t" id="n10" style="left:553px;top:864.4px;transform:scaleX(0.9901)">MNS 抽屉定位件圈 + 轴 /M6 定位钉</div>
<div class="c p" style="left:816px;width:86px;top:864.4px">42</div>
<div class="c t" id="n11" style="left:553px;top:894.2px;transform:scaleX(0.9612)">抽屉解锁门锁支架</div>
<div class="c p" style="left:816px;width:86px;top:894.2px">41</div>
<div class="c t" id="n12" style="left:553px;top:923.9px;transform:scaleX(0.9801)">轴承 + 轴承芯</div>
<div class="c p" style="left:816px;width:86px;top:923.9px">42</div>
<div class="c t" id="n13" style="left:553px;top:953.7px;transform:scaleX(0.9940)">一次动插件</div>
<div class="c p" style="left:816px;width:86px;top:953.7px">44</div>
<div class="c t" id="n14" style="left:553px;top:983.4px;transform:scaleX(0.9631)">二次动插件</div>
<div class="c p" style="left:816px;width:86px;top:983.4px">48</div>
<div class="c t" id="n15" style="left:553px;top:1013.2px;transform:scaleX(0.9940)">一次动插件</div>
<div class="c p" style="left:816px;width:86px;top:1013.2px">44</div>
<div class="c t" id="n16" style="left:551px;top:1043.0px;transform:scaleX(0.9785)">WSL-2 手拉机构</div>
<div class="c p" style="left:816px;width:86px;top:1043.0px">18</div>
<div class="c t" id="n17" style="left:555px;top:1072.7px;transform:scaleX(0.9585)">抽屉暗装铰链</div>
<div class="c p" style="left:816px;width:86px;top:1072.7px">34</div>
<div class="c h" style="left:8px;width:85px;top:835px">序号</div>
<div class="c h" style="left:93px;width:273px;top:835px">名称</div>
<div class="c h" style="left:366px;width:89px;top:835px">所在页码</div>
<div class="c h" style="left:455px;width:85px;top:835px">序号</div>
<div class="c h" style="left:540px;width:276px;top:835px">名称</div>
<div class="c h" style="left:816px;width:86px;top:835px">所在页码</div>
<svg width="910" height="1165" style="position:absolute;left:0;top:0"><g stroke="#9a9a9a" stroke-width="1" stroke-dasharray="1.5 1.5"><line x1="8" y1="864.5" x2="902" y2="864.5"/><line x1="8" y1="894.5" x2="902" y2="894.5"/><line x1="8" y1="923.5" x2="902" y2="923.5"/><line x1="8" y1="953.5" x2="902" y2="953.5"/><line x1="8" y1="983.5" x2="902" y2="983.5"/><line x1="8" y1="1013.5" x2="902" y2="1013.5"/><line x1="8" y1="1042.5" x2="902" y2="1042.5"/><line x1="8" y1="1072.5" x2="902" y2="1072.5"/><line x1="8" y1="1102.5" x2="902" y2="1102.5"/><line x1="8" y1="1132.5" x2="902" y2="1132.5"/><line x1="93.5" y1="836" x2="93.5" y2="1133"/><line x1="366.5" y1="836" x2="366.5" y2="1133"/><line x1="455.5" y1="836" x2="455.5" y2="1133"/><line x1="540.5" y1="836" x2="540.5" y2="1133"/><line x1="816.5" y1="836" x2="816.5" y2="1133"/></g><rect x="8" y="833.6" width="894" height="1.8" fill="#d2131b"/><g fill="none" stroke="#444" stroke-width="1"><circle cx="51.6" cy="881.6" r="7.3"/><circle cx="51.6" cy="911.3" r="7.3"/><circle cx="51.6" cy="941.1" r="7.3"/><circle cx="51.6" cy="970.9" r="7.3"/><circle cx="51.6" cy="1000.6" r="7.3"/><circle cx="51.6" cy="1030.4" r="7.3"/><circle cx="51.6" cy="1060.1" r="7.3"/><circle cx="51.6" cy="1089.9" r="7.3"/><circle cx="51.6" cy="1119.7" r="7.3"/><circle cx="496.4" cy="878.3" r="8.2"/><circle cx="496.4" cy="908.0" r="8.2"/><circle cx="496.4" cy="937.8" r="8.2"/><circle cx="496.4" cy="967.6" r="8.2"/><circle cx="496.4" cy="997.3" r="8.2"/><circle cx="496.4" cy="1027.1" r="8.2"/><circle cx="496.4" cy="1056.8" r="8.2"/><circle cx="496.4" cy="1086.6" r="8.2"/></g><g fill="#333" text-anchor="middle" font-family="Liberation Sans, sans-serif"><text x="51.6" y="885.6" font-size="11.2">1</text><text x="51.6" y="915.3" font-size="11.2">2</text><text x="51.6" y="945.1" font-size="11.2">3</text><text x="51.6" y="974.9" font-size="11.2">4</text><text x="51.6" y="1004.6" font-size="11.2">5</text><text x="51.6" y="1034.4" font-size="11.2">6</text><text x="51.6" y="1064.1" font-size="11.2">7</text><text x="51.6" y="1093.9" font-size="11.2">8</text><text x="51.6" y="1123.7" font-size="11.2">9</text><text x="496.4" y="882.7" font-size="12.2" letter-spacing="-0.8">10</text><text x="496.4" y="912.4" font-size="12.2" letter-spacing="-0.8">11</text><text x="496.4" y="942.2" font-size="12.2" letter-spacing="-0.8">12</text><text x="496.4" y="972.0" font-size="12.2" letter-spacing="-0.8">13</text><text x="496.4" y="1001.7" font-size="12.2" letter-spacing="-0.8">14</text><text x="496.4" y="1031.5" font-size="12.2" letter-spacing="-0.8">15</text><text x="496.4" y="1061.2" font-size="12.2" letter-spacing="-0.8">16</text><text x="496.4" y="1091.0" font-size="12.2" letter-spacing="-0.8">17</text></g></svg>

</div></body></html>
